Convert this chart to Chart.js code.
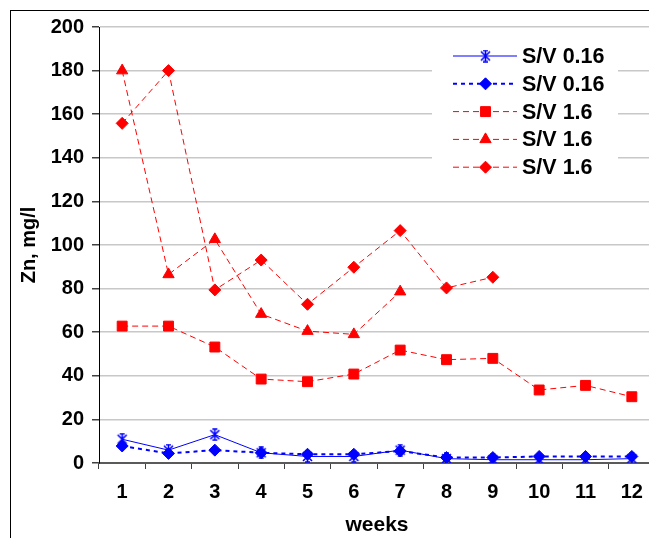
<!DOCTYPE html>
<html>
<head>
<meta charset="utf-8">
<script src="https://cdn.jsdelivr.net/npm/chart.js@4/dist/chart.umd.min.js"></script>
<style>
  html, body { margin: 0; padding: 0; background: #fff; overflow: hidden; }
  #wrap { position: relative; width: 680px; height: 538px; }
</style>
</head>
<body>
<div id="wrap"><canvas id="znChart" width="680" height="538"></canvas></div>
<script>
const weeks = ['1', '2', '3', '4', '5', '6', '7', '8', '9', '10', '11', '12'];

// S/V 0.16 runs
const sv016a = [10.9, 5.9, 13, 4.7, 3, 3, 5.9, 2, 1.5, 1.5, 1.5, 2];
const sv016b = [7.8, 4.4, 5.9, 4.7, 4, 4, 5.5, 2.5, 2.5, 3, 3, 3];

// S/V 1.6 runs
const sv16a = [62.8, 62.8, 53.2, 38.5, 37.3, 40.8, 51.8, 47.4, 48.0, 33.5, 35.6, 30.4];
const sv16b = [180, 86.5, 102.6, 68.3, 60.5, 59, 78.6];
const sv16c = [155.8, 180, 79.4, 93.1, 72.8, 89.8, 106.6, 80.3, 85.2];

const yTicks = { min: 0, max: 200, step: 20 };

const BLUE = '#0000ff';
const RED = '#ff0000';
const FONT = "'Liberation Sans', Arial, sans-serif";

// asterisk marker: X with a vertical bar
function makeStar(color) {
    const c = document.createElement('canvas');
    c.width = 13; c.height = 13;
    const g = c.getContext('2d');
    g.strokeStyle = color;
    g.lineWidth = 1.6;
    g.beginPath();
    g.moveTo(2, 2); g.lineTo(11, 11);
    g.moveTo(11, 2); g.lineTo(2, 11);
    g.moveTo(6.5, 0.5); g.lineTo(6.5, 12.5);
    g.moveTo(4, 1); g.lineTo(9, 1);
    g.moveTo(4, 12); g.lineTo(9, 12);
    g.stroke();
    return c;
}
const starMark = makeStar(BLUE);

const datasets = [
    { label: 'S/V 0.16', data: sv016a, borderColor: BLUE, backgroundColor: BLUE,
      borderWidth: 1, borderDash: [], pointStyle: starMark, pointRadius: 6 },
    { label: 'S/V 0.16', data: sv016b, borderColor: BLUE, backgroundColor: BLUE,
      borderWidth: 2, borderDash: [4, 4], pointStyle: 'rectRot', pointRadius: 6 },
    { label: 'S/V 1.6', data: sv16a, borderColor: RED, backgroundColor: RED,
      borderWidth: 1, borderDash: [6, 4], pointStyle: 'rect', pointRadius: 7 },
    { label: 'S/V 1.6', data: sv16b, borderColor: RED, backgroundColor: RED,
      borderWidth: 1, borderDash: [6, 4], pointStyle: 'triangle', pointRadius: 6.5 },
    { label: 'S/V 1.6', data: sv16c, borderColor: RED, backgroundColor: RED,
      borderWidth: 1, borderDash: [6, 4], pointStyle: 'rectRot', pointRadius: 6 }
].map(d => Object.assign(d, {
    pointBackgroundColor: d.backgroundColor,
    pointBorderColor: d.borderColor,
    pointBorderWidth: 1,
    tension: 0,
    fill: false
}));

// outer frame around the whole chart
const framePlugin = {
    id: 'frame',
    beforeDraw(chart) {
        const ctx = chart.ctx;
        ctx.save();
        ctx.strokeStyle = '#000';
        ctx.lineWidth = 1;
        ctx.strokeRect(10.5, 10.5, 1000, 1000);
        ctx.restore();
    }
};

// legend box inside the plot, line sample with marker in the middle
const boxLegend = {
    id: 'boxLegend',
    afterDraw(chart) {
        const ctx = chart.ctx;
        ctx.save();
        ctx.fillStyle = '#fff';
        ctx.fillRect(432, 36, 186, 146);
        chart.data.datasets.forEach((ds, i) => {
            const y = 56 + i * 27.8;
            ctx.save();
            ctx.strokeStyle = ds.borderColor;
            ctx.lineWidth = ds.borderWidth;
            ctx.setLineDash(ds.borderDash);
            ctx.beginPath();
            ctx.moveTo(453, y);
            ctx.lineTo(517, y);
            ctx.stroke();
            ctx.restore();
            ctx.fillStyle = ds.backgroundColor;
            ctx.strokeStyle = ds.borderColor;
            ctx.lineWidth = 1;
            Chart.helpers.drawPoint(ctx, {
                pointStyle: ds.pointStyle, radius: ds.pointRadius, rotation: 0, borderWidth: 1
            }, 485.5, y);
            ctx.fillStyle = '#000';
            ctx.font = 'bold 21.5px ' + FONT;
            ctx.textBaseline = 'middle';
            ctx.textAlign = 'left';
            ctx.fillText(ds.label, 522, y + 1);
        });
        ctx.restore();
    }
};

new Chart(document.getElementById('znChart'), {
    type: 'line',
    data: { labels: weeks, datasets: datasets },
    plugins: [framePlugin, boxLegend],
    options: {
        responsive: false,
        animation: false,
        devicePixelRatio: 1,
        layout: { padding: { left: 10, top: 27, right: 25, bottom: 0 } },
        plugins: {
            legend: { display: false },
            tooltip: { enabled: false }
        },
        scales: {
            x: {
                type: 'category',
                offset: true,
                afterFit: s => { s.height = 75; },
                grid: {
                    offset: true,
                    drawOnChartArea: false,
                    tickLength: 6,
                    tickColor: '#404040'
                },
                border: { color: '#5a5a5a', width: 2 },
                ticks: {
                    color: '#000',
                    padding: 11,
                    font: { family: FONT, size: 20, weight: 'bold' }
                },
                title: {
                    display: true,
                    text: 'weeks',
                    color: '#000',
                    padding: { top: 0, bottom: 0 },
                    font: { family: FONT, size: 21, weight: 'bold' }
                }
            },
            y: {
                min: yTicks.min,
                max: yTicks.max,
                afterFit: s => { s.width = 89; },
                grid: {
                    color: '#c8c8c8',
                    lineWidth: 1.5,
                    tickLength: 7,
                    tickColor: '#404040'
                },
                border: { color: '#000', width: 1 },
                ticks: {
                    stepSize: yTicks.step,
                    color: '#000',
                    padding: 8,
                    font: { family: FONT, size: 20, weight: 'bold' }
                },
                title: {
                    display: true,
                    text: 'Zn, mg/l',
                    color: '#000',
                    padding: { top: 7, bottom: 0 },
                    font: { family: FONT, size: 20, weight: 'bold' }
                }
            }
        }
    }
});
</script>
</body>
</html>
